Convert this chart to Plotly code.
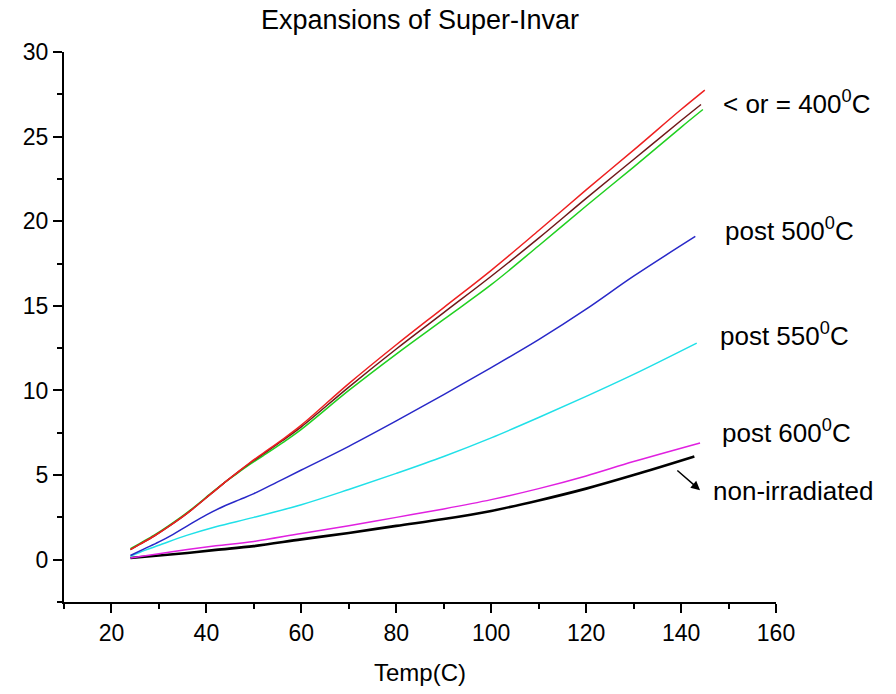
import plotly.graph_objects as go

# ---- data ----
x_red = [24, 26, 29, 32, 36, 41, 44, 46.5, 49, 52, 56, 60, 70, 80, 90, 100, 110, 120, 130, 140, 145]
y_red = [0.6, 0.92, 1.4, 1.95, 2.75, 3.9, 4.6, 5.15, 5.7, 6.3, 7.1, 7.95, 10.4, 12.7, 14.9, 17.1, 19.45, 21.85, 24.2, 26.6, 27.75]

x_wine = [24, 26, 29, 32, 36, 41, 44, 46.5, 49, 52, 56, 60, 70, 80, 90, 100, 110, 120, 130, 140, 144.2]
y_wine = [0.6, 0.92, 1.4, 1.95, 2.75, 3.9, 4.6, 5.15, 5.67, 6.25, 7.03, 7.85, 10.2, 12.45, 14.6, 16.75, 19.0, 21.35, 23.65, 25.95, 26.9]

x_green = [24, 26, 29, 32, 36, 41, 44, 46.5, 49, 52, 56, 60, 70, 80, 90, 100, 110, 120, 130, 140, 144.6]
y_green = [0.65, 0.97, 1.45, 2.0, 2.8, 3.93, 4.6, 5.1, 5.6, 6.15, 6.9, 7.7, 10.0, 12.15, 14.2, 16.25, 18.55, 20.9, 23.2, 25.55, 26.6]

x_blue = [24, 27, 30, 33, 36, 40, 44, 47, 50, 55, 60, 70, 80, 90, 100, 110, 120, 130, 143]
y_blue = [0.25, 0.65, 1.05, 1.5, 2.0, 2.65, 3.2, 3.55, 3.9, 4.6, 5.3, 6.7, 8.2, 9.75, 11.35, 13.0, 14.8, 16.75, 19.1]

x_cyan = [24, 27, 30, 36, 42, 50, 60, 70, 80, 90, 100, 110, 120, 130, 143.3]
y_cyan = [0.2, 0.55, 0.85, 1.45, 1.95, 2.5, 3.25, 4.15, 5.1, 6.1, 7.2, 8.4, 9.65, 10.95, 12.8]

x_mag = [24, 30, 36, 42, 50, 60, 70, 80, 90, 100, 110, 120, 130, 144]
y_mag = [0.1, 0.35, 0.6, 0.82, 1.08, 1.55, 2.0, 2.5, 3.0, 3.55, 4.2, 4.95, 5.8, 6.9]

x_black = [24, 30, 36, 42, 50, 60, 70, 80, 90, 100, 110, 120, 130, 142.8]
y_black = [0.1, 0.25, 0.4, 0.58, 0.8, 1.2, 1.58, 2.0, 2.4, 2.88, 3.5, 4.2, 5.0, 6.1]

labels = ["&lt; or = 400<sup>0</sup>C", "post 500<sup>0</sup>C", "post 550<sup>0</sup>C",
          "post 600<sup>0</sup>C", "non-irradiated"]
label_x = [148.4, 148.8, 147.8, 148.2, 146.2]
label_y = [27.0, 19.5, 13.3, 7.57, 4.04]
arrow_tail = (138.9, 5.35)
arrow_head = (144.0, 4.11)

FONT = "Arial, Liberation Sans, sans-serif"

fig = go.Figure()
series = [
    (x_black, y_black, "black", 2.6),
    (x_mag, y_mag, "#e020e0", 1.5),
    (x_cyan, y_cyan, "#20e0e8", 1.5),
    (x_blue, y_blue, "#2828c8", 1.5),
    (x_green, y_green, "#20d020", 1.5),
    (x_wine, y_wine, "#701818", 1.5),
    (x_red, y_red, "#ee2020", 1.5),
]
for xs, ys, c, w in series:
    fig.add_trace(go.Scatter(x=xs, y=ys, mode="lines",
                             line=dict(color=c, width=w, shape="spline", smoothing=1.0),
                             showlegend=False, hoverinfo="skip"))

for t, xx, yy in zip(labels, label_x, label_y):
    fig.add_annotation(x=xx, y=yy, xref="x", yref="y", text=t, showarrow=False,
                       xanchor="left", yanchor="middle",
                       font=dict(family=FONT, size=26, color="black"))

fig.add_annotation(x=arrow_head[0], y=arrow_head[1], ax=arrow_tail[0], ay=arrow_tail[1],
                   xref="x", yref="y", axref="x", ayref="y", text="", showarrow=True,
                   arrowhead=2, arrowsize=1.2, arrowwidth=1.5, arrowcolor="black")

axis_common = dict(showline=True, linecolor="black", linewidth=2, ticks="outside",
                   ticklen=9, tickwidth=2, tickcolor="black", showgrid=False, zeroline=False,
                   tickfont=dict(family=FONT, size=23, color="black"), mirror=False)

fig.update_layout(
    width=896, height=694,
    margin=dict(l=64, r=120, t=52, b=90),
    paper_bgcolor="white", plot_bgcolor="white",
    title=dict(text="Expansions of Super-Invar", x=0.5, xref="paper",
               y=1 - 20 / 694, yref="container", xanchor="center", yanchor="middle",
               font=dict(family=FONT, size=27, color="black")),
    xaxis=dict(range=[10, 160], dtick=20, tick0=0,
               minor=dict(dtick=10, tick0=0, ticklen=5, tickwidth=2, tickcolor="black", ticks="outside"),
               title=dict(text="Temp(C)", font=dict(family=FONT, size=24, color="black"), standoff=20),
               **axis_common),
    yaxis=dict(range=[-2.5, 30], dtick=5, tick0=0,
               minor=dict(dtick=2.5, tick0=0, ticklen=5, tickwidth=2, tickcolor="black", ticks="outside"),
               **axis_common),
)

fig.write_html("out.html")
